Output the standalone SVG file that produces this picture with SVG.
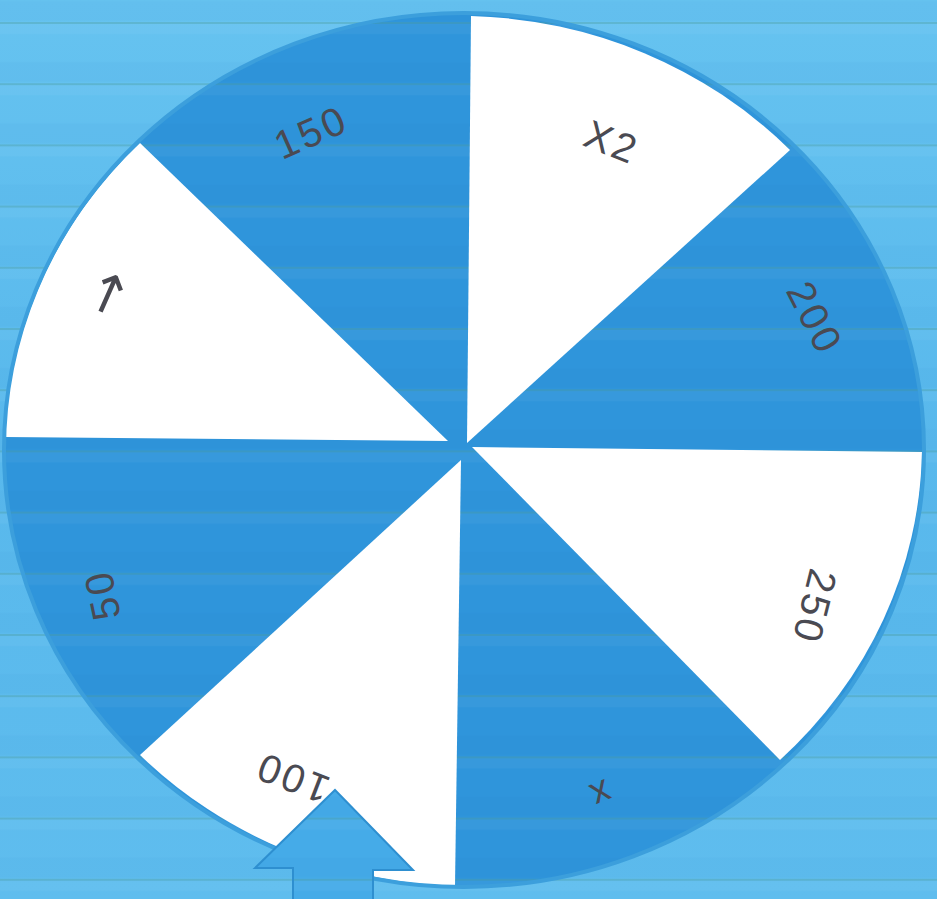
<svg xmlns="http://www.w3.org/2000/svg" width="937" height="899" viewBox="0 0 937 899">
<defs>
<linearGradient id="bg" x1="0" y1="0" x2="0" y2="1">
<stop offset="0" stop-color="#66c3f0"/>
<stop offset="0.5" stop-color="#58b8ec"/>
<stop offset="1" stop-color="#5fbdee"/>
</linearGradient>
<pattern id="stripes" patternUnits="userSpaceOnUse" x="0" y="22" width="20" height="61.2">
<rect x="0" y="0" width="20" height="2" fill="#4f9e98" fill-opacity="0.35"/>
<rect x="0" y="2" width="20" height="10" fill="#ffffff" fill-opacity="0.04"/>
<rect x="0" y="40" width="20" height="20" fill="#1a6fb0" fill-opacity="0.04"/>
</pattern>
<path id="arrowShape" d="M335,790 L413,870 L373,870 L373,905 L293,905 L293,868 L255,868 Z"/>
<clipPath id="arrowClip"><use href="#arrowShape"/></clipPath>
<style>
.white{fill:#ffffff;}
.lbl{font-family:"Liberation Sans","DejaVu Sans",sans-serif;font-size:40px;fill:#4a4a52;text-anchor:middle;dominant-baseline:central;letter-spacing:3px;}
</style>
</defs>
<rect id="background" x="0" y="0" width="937" height="899" fill="url(#bg)"/>
<g id="wheel">
<ellipse id="disc" cx="464" cy="450" rx="460" ry="437" fill="#2f95db"/>
<rect x="0" y="0" width="937" height="899" fill="url(#stripes)"/>
<g id="sector-x2"><path class="white" d="M467,443 L471,16 A460,437 0 0 1 790,150 Z"/></g>
<g id="sector-250"><path class="white" d="M472,447 L922,452 A460,437 0 0 1 780,760 Z"/></g>
<g id="sector-100"><path class="white" d="M461,460 L455,886 A460,437 0 0 1 140,755 Z"/></g>
<g id="sector-arrow"><path class="white" d="M448,441 L5,437 A460,437 0 0 1 140,143 Z"/></g>
<ellipse id="rim" cx="464" cy="450" rx="460" ry="437" fill="none" stroke="#3c9fdc" stroke-width="4"/>
</g>
<g id="labels">
<g id="label-150"><text class="lbl" transform="translate(311,132) rotate(-24)">150</text></g>
<g id="label-x2"><text class="lbl" transform="translate(612,142) rotate(22)">X2</text></g>
<g id="label-200"><text class="lbl" transform="translate(815,318) rotate(63)">200</text></g>
<g id="label-250"><text class="lbl" transform="translate(815,607) rotate(104)">250</text></g>
<g id="label-x"><text class="lbl" style="font-size:38px" transform="translate(600,795) rotate(157)">x</text></g>
<g id="label-100"><text class="lbl" transform="translate(292,778) rotate(201)">100</text></g>
<g id="label-50"><text class="lbl" transform="translate(102,595) rotate(-102)">50</text></g>
<g id="label-arrow"><text class="lbl" style="letter-spacing:0;font-family:'DejaVu Sans',sans-serif;font-size:54px" transform="translate(107,293) rotate(-66)">→</text></g>
</g>
<g id="pointer">
<use href="#arrowShape" fill="#45abe8"/>
<rect x="240" y="780" width="190" height="120" fill="url(#stripes)" clip-path="url(#arrowClip)"/>
<use href="#arrowShape" fill="none" stroke="#2e8fd0" stroke-width="2"/>
</g>
</svg>
